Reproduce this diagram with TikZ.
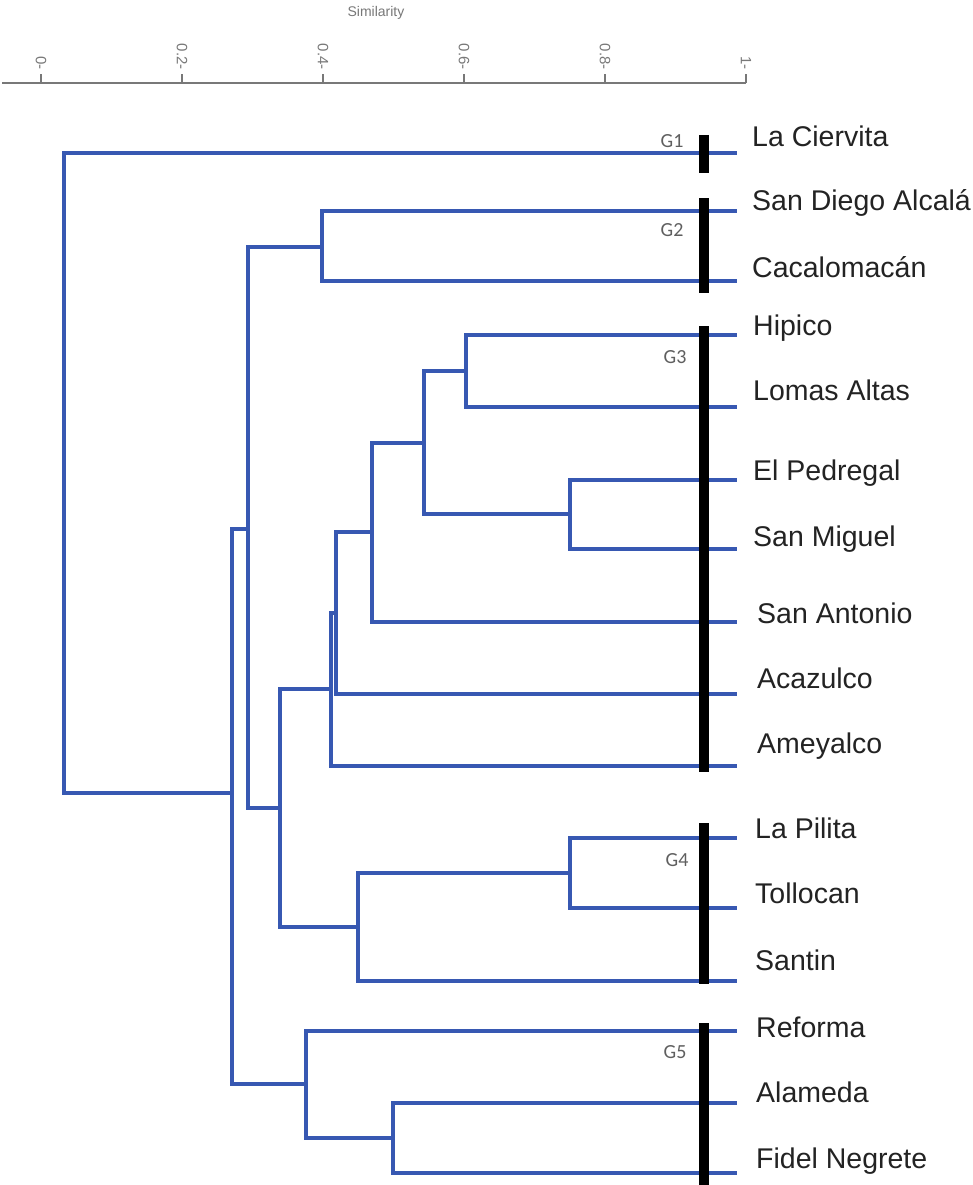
\documentclass[tikz,border=0pt]{standalone}
\usepackage{fontspec}
\setmainfont{Liberation Sans}
\newfontfamily\gfont{Carlito}
\definecolor{dendro}{RGB}{55,88,178}
\definecolor{labtext}{RGB}{35,35,35}
\definecolor{axisgray}{RGB}{120,120,120}
\begin{document}
\begin{tikzpicture}[x=1pt,y=-1pt,
  branch/.style={draw=dendro,line width=3.6pt,line cap=rect},
  leaflabel/.style={anchor=base west,inner sep=0pt,text=labtext,font=\fontsize{28.5}{32}\selectfont},
  grouplabel/.style={inner sep=0pt,text={rgb,255:red,95;green,95;blue,95},font=\gfont\fontsize{20}{22}\selectfont},
  groupbar/.style={draw=black,line width=10pt,line cap=butt},
  ticklabel/.style={rotate=-90,anchor=east,inner sep=0pt,text=axisgray,font=\fontsize{15}{16}\selectfont},
  axisline/.style={draw=axisgray,line width=2pt}]
\useasboundingbox (0,0) rectangle (973,1185);
\fill[white] (0,0) rectangle (973,1185);

% axis
\coordinate (ax0) at (2,83);
\coordinate (ax1) at (746,83);
\draw[axisline] (ax0) -- (ax1);
\foreach \v/\x/\t in {0/41/0,1/182/0.2,2/323/0.4,3/464/0.6,4/605/0.8,5/746/1}{
  \coordinate (tk\v) at (\x,83);
  \coordinate (tt\v) at (\x,74);
  \draw[axisline] (tk\v) -- (tt\v);
  \node[ticklabel] (tl\v) at (\x,70) {\t-};
}
\node[inner sep=0pt,text=axisgray,font=\fontsize{14}{15}\selectfont] (simtitle) at (376,13) {Similarity};

% leaves (line ends)
\coordinate (LC) at (735,153);
\coordinate (SD) at (735,211);
\coordinate (CA) at (735,281);
\coordinate (HI) at (735,335);
\coordinate (LA) at (735,407);
\coordinate (EP) at (735,480);
\coordinate (SM) at (735,549);
\coordinate (SA) at (735,622);
\coordinate (AC) at (735,694);
\coordinate (AM) at (735,766);
\coordinate (LP) at (735,838);
\coordinate (TO) at (735,908);
\coordinate (SN) at (735,981);
\coordinate (RE) at (735,1031);
\coordinate (AL) at (735,1103);
\coordinate (FN) at (735,1173);

% internal nodes
\coordinate (n1) at (466,371);
\coordinate (n2) at (570,514);
\coordinate (n3) at (424,443);
\coordinate (n4) at (372,532);
\coordinate (n5) at (336,613);
\coordinate (n6) at (331,689);
\coordinate (n7) at (570,873);
\coordinate (n8) at (358,927);
\coordinate (n9) at (280,808);
\coordinate (n10) at (322,247);
\coordinate (n11) at (248,529);
\coordinate (n12) at (393,1138);
\coordinate (n13) at (306,1084);
\coordinate (n14) at (232,793);
\coordinate (root) at (64,793);

% branches
\draw[branch] (root) |- (LC);
\draw[branch] (root) -- (n14);
\draw[branch] (n14) |- (n11);
\draw[branch] (n14) |- (n13);
\draw[branch] (n11) |- (n10);
\draw[branch] (n11) |- (n9);
\draw[branch] (n10) |- (SD);
\draw[branch] (n10) |- (CA);
\draw[branch] (n9) |- (n6);
\draw[branch] (n9) |- (n8);
\draw[branch] (n6) |- (n5);
\draw[branch] (n6) |- (AM);
\draw[branch] (n5) |- (n4);
\draw[branch] (n5) |- (AC);
\draw[branch] (n4) |- (n3);
\draw[branch] (n4) |- (SA);
\draw[branch] (n3) |- (n1);
\draw[branch] (n3) |- (n2);
\draw[branch] (n1) |- (HI);
\draw[branch] (n1) |- (LA);
\draw[branch] (n2) |- (EP);
\draw[branch] (n2) |- (SM);
\draw[branch] (n8) |- (n7);
\draw[branch] (n8) |- (SN);
\draw[branch] (n7) |- (LP);
\draw[branch] (n7) |- (TO);
\draw[branch] (n13) |- (RE);
\draw[branch] (n13) |- (n12);
\draw[branch] (n12) |- (AL);
\draw[branch] (n12) |- (FN);

% group bars
\coordinate (g1a) at (704,135); \coordinate (g1b) at (704,173);
\coordinate (g2a) at (704,198); \coordinate (g2b) at (704,293);
\coordinate (g3a) at (704,326); \coordinate (g3b) at (704,772);
\coordinate (g4a) at (704,823); \coordinate (g4b) at (704,984);
\coordinate (g5a) at (704,1023); \coordinate (g5b) at (704,1185);
\draw[groupbar] (g1a) -- (g1b);
\draw[groupbar] (g2a) -- (g2b);
\draw[groupbar] (g3a) -- (g3b);
\draw[groupbar] (g4a) -- (g4b);
\draw[groupbar] (g5a) -- (g5b);

\node[grouplabel] (G1) at (672,141) {G1};
\node[grouplabel] (G2) at (672,230) {G2};
\node[grouplabel] (G3) at (675,357) {G3};
\node[grouplabel] (G4) at (677,860) {G4};
\node[grouplabel] (G5) at (675,1052) {G5};

% leaf labels
\node[leaflabel] (tLC) at (752,147) {La Ciervita};
\node[leaflabel] (tSD) at (752,210) {San Diego Alcalá};
\node[leaflabel] (tCA) at (752,277) {Cacalomacán};
\node[leaflabel] (tHI) at (753,335) {Hipico};
\node[leaflabel] (tLA) at (753,400) {Lomas Altas};
\node[leaflabel] (tEP) at (753,480) {El Pedregal};
\node[leaflabel] (tSM) at (753,546) {San Miguel};
\node[leaflabel] (tSA) at (757,623) {San Antonio};
\node[leaflabel] (tAC) at (757,688) {Acazulco};
\node[leaflabel] (tAM) at (757,753) {Ameyalco};
\node[leaflabel] (tLP) at (755,838) {La Pilita};
\node[leaflabel] (tTO) at (755,903) {Tollocan};
\node[leaflabel] (tSN) at (755,970) {Santin};
\node[leaflabel] (tRE) at (756,1037) {Reforma};
\node[leaflabel] (tAL) at (756,1102) {Alameda};
\node[leaflabel] (tFN) at (756,1168) {Fidel Negrete};
\end{tikzpicture}
\end{document}
